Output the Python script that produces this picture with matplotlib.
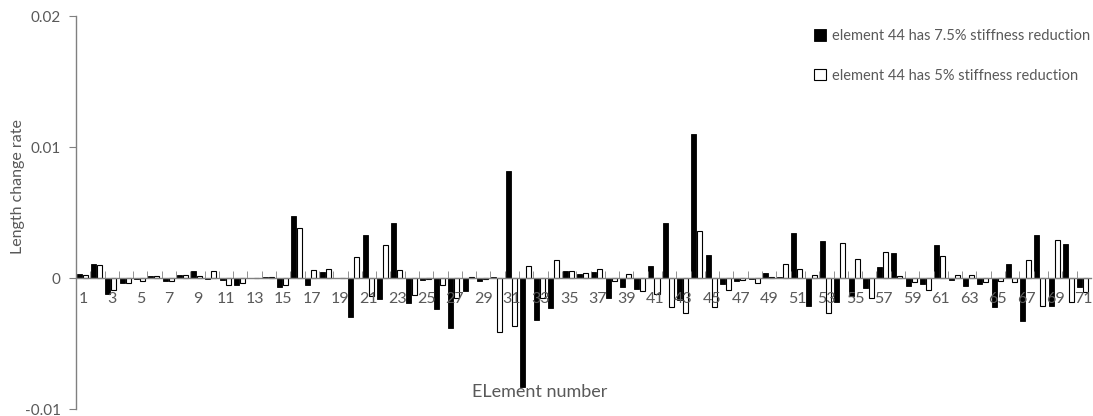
import numpy as np
import matplotlib.pyplot as plt

# Length change rate of each element
elements = list(range(1, 72))
tick_labels = [str(k) for k in range(1, 72, 2)]

# element 44 with 7.5% stiffness reduction (black bars)
rate_75 = [0.00028, 0.00107, -0.00122, -0.00036, -0.0001, 0.00018, -0.0002, 0.0002, 0.00056, -0.00005,
           -0.00015, -0.0005, 0.0, 0.0001, -0.0007, 0.0047, -0.0005, 0.00043, 0.0, -0.00298,
           0.00328, -0.0016, 0.0042, -0.0019, -0.00012, -0.0024, -0.0038, -0.001, -0.00023, 0.0001,
           0.0082, -0.0083, -0.0032, -0.0023, 0.0005, 0.00033, 0.00043, -0.0015, -0.00066, -0.00084,
           0.0009, 0.0042, -0.0017, 0.011, 0.00176, -0.00043, -0.0002, -0.00008, 0.0004, 0.00005,
           0.0034, -0.0021, 0.0028, -0.0018, -0.0014, -0.0008, 0.00084, 0.0019, -0.0006, -0.00043,
           0.0025, -0.00015, -0.0006, -0.00043, -0.0022, 0.00107, -0.0033, 0.0033, -0.0021, 0.0026,
           -0.0007]

# element 44 with 5% stiffness reduction (white bars)
rate_5 = [0.00022, 0.001, -0.00094, -0.0004, -0.00025, 0.00015, -0.0002, 0.00025, 0.00018, 0.0005,
          -0.00056, -0.00038, 0.0, 0.00008, -0.00053, 0.0038, 0.0006, 0.0007, 0.0, 0.00158,
          -0.0014, 0.0025, 0.0006, -0.0013, -0.00008, -0.00053, -0.0015, 0.0001, -0.00005, -0.0041,
          -0.0037, 0.0009, -0.0015, 0.0014, 0.0005, 0.0004, 0.0007, -0.00025, 0.0003, -0.001,
          -0.0012, -0.0022, -0.0027, 0.0036, -0.0022, -0.0009, -0.00013, -0.0004, 0.0001, 0.00107,
          0.0007, 0.00025, -0.0027, 0.0027, 0.00145, -0.0015, 0.002, 0.00018, -0.0003, -0.0009,
          0.0017, 0.00025, 0.0002, -0.0003, -0.00025, -0.0003, 0.00135, -0.0021, 0.0029, -0.0018,
          -0.0011]

GREY = "#595959"
plt.rcParams['font.family'] = ['Lato', 'DejaVu Sans']

fig = plt.figure(figsize=(10.93, 4.16), dpi=100)
ax = fig.add_axes([0.0695, 0.0168, 0.9285, 0.9447])

x = np.array(elements)
w = 0.35
ax.bar(x - 0.27, rate_75, width=w, color="black", edgecolor="black", linewidth=0.6,
       label="element 44 has 7.5% stiffness reduction")
ax.bar(x + 0.15, rate_5, width=w, color="white", edgecolor="black", linewidth=0.8,
       label="element 44 has 5% stiffness reduction")

ax.set_xlim(0.5, 71.5)
ax.set_ylim(-0.01, 0.02)
ax.set_yticks([-0.01, 0, 0.01, 0.02])
ax.set_yticklabels(["-0.01", "0", "0.01", "0.02"])

# category axis sits on the zero line
ax.spines['bottom'].set_position(('data', 0))
ax.spines['top'].set_visible(False)
ax.spines['right'].set_visible(False)
for s in ['bottom', 'left']:
    ax.spines[s].set_color("#808080")
    ax.spines[s].set_linewidth(1.0)

ax.set_xticks(list(range(1, 72, 2)))
ax.set_xticklabels(tick_labels)
ax.set_xticks(np.arange(1.5, 71.5, 1), minor=True)
ax.tick_params(axis='x', which='major', length=0, pad=10, labelsize=11.5, labelcolor=GREY)
ax.tick_params(axis='x', which='minor', direction='in', length=5, color="#808080")
ax.tick_params(axis='y', direction='out', length=5, color="#808080", labelsize=11,
               labelcolor=GREY, pad=6)

fig.text(18 / 1093, 1 - 187 / 416, "Length change rate", rotation=90, ha='center',
         va='center', fontsize=11.5, color=GREY)
fig.text(540 / 1093, 1 - 392 / 416, "ELement number", ha='center', va='center',
         fontsize=13, color=GREY)

leg = ax.legend(loc='upper right', bbox_to_anchor=(1.012, 1.0), frameon=False,
                fontsize=10.5, labelspacing=1.75, handlelength=0.8, handleheight=0.8,
                handletextpad=0.4, labelcolor=GREY)

fig.savefig("out.png", dpi=100)
